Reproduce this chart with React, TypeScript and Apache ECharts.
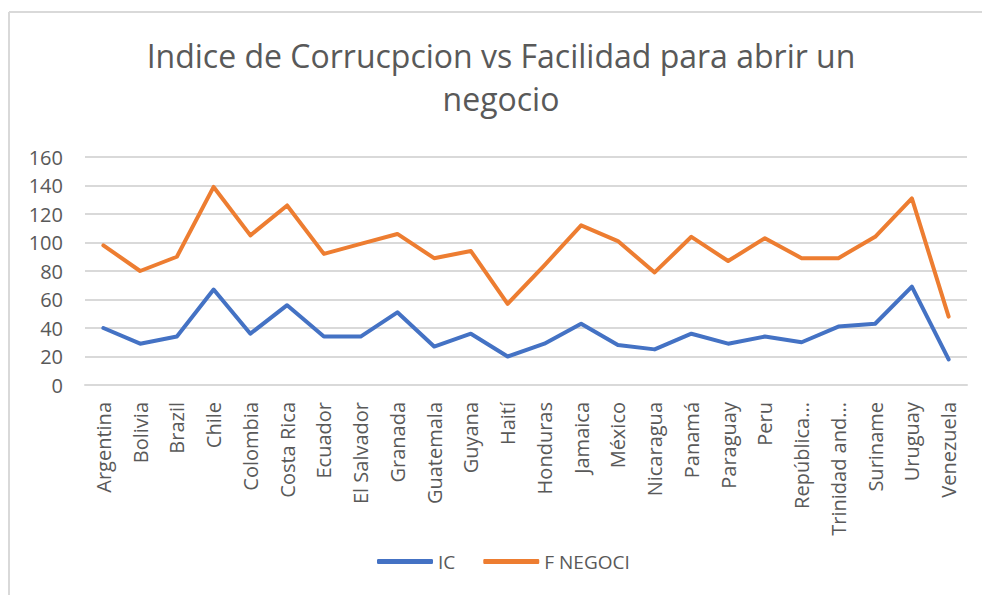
import React, { useEffect, useRef } from "react";
import * as echarts from "echarts";

const categories = [
  "Argentina", "Bolivia", "Brazil", "Chile", "Colombia", "Costa Rica", "Ecuador",
  "El Salvador", "Granada", "Guatemala", "Guyana", "Haití", "Honduras", "Jamaica",
  "México", "Nicaragua", "Panamá", "Paraguay", "Peru", "República...",
  "Trinidad and...", "Suriname", "Uruguay", "Venezuela",
];

const icValues = [40, 29, 34, 67, 36, 56, 34, 34, 51, 27, 36, 20, 29, 43, 28, 25, 36, 29, 34, 30, 41, 43, 69, 18];
const negociValues = [98, 80, 90, 139, 105, 126, 92, 99, 106, 89, 94, 57, 84, 112, 101, 79, 104, 87, 103, 89, 89, 104, 131, 48];

const yTicks = { min: 0, max: 160, interval: 20 };

const titleText = "Indice de Corrucpcion vs Facilidad para abrir un\nnegocio";

export default function App() {
  const ref = useRef<HTMLDivElement>(null);
  useEffect(() => {
    if (!ref.current) return;
    const chart = echarts.init(ref.current, undefined, { renderer: "svg" });
    const gray = "#595959";
    chart.setOption({
      animation: false,
      backgroundColor: "#ffffff",
      textStyle: { fontFamily: "Open Sans" },
      title: {
        text: titleText,
        left: 501,
        top: 34,
        padding: 0,
        textAlign: "center",
        textStyle: {
          fontFamily: "Open Sans",
          fontWeight: 400,
          fontSize: 32,
          lineHeight: 43,
          color: gray,
        },
      },
      graphic: [
        { type: "line", shape: { x1: 9, y1: 12, x2: 9, y2: 595 }, style: { stroke: "#d9d9d9", lineWidth: 2 } },
        { type: "line", shape: { x1: 9, y1: 12, x2: 982, y2: 12 }, style: { stroke: "#d9d9d9", lineWidth: 2 } },
      ],
      legend: {
        left: 377,
        top: 552,
        padding: 0,
        itemWidth: 56,
        itemHeight: 5,
        itemGap: 28,
        icon: "roundRect",
        textStyle: { fontSize: 19, color: gray, fontFamily: "Open Sans" },
        data: ["IC", "F NEGOCI"],
      },
      grid: { left: 85, right: 15, top: 157, bottom: 210 },
      xAxis: {
        type: "category",
        data: categories,
        boundaryGap: true,
        axisLine: { show: true, lineStyle: { color: "#d9d9d9", width: 2 } },
        axisTick: { show: false },
        axisLabel: { rotate: 90, fontSize: 20, color: gray, margin: 17, interval: 0, fontFamily: "Open Sans" },
      },
      yAxis: {
        type: "value",
        min: yTicks.min,
        max: yTicks.max,
        interval: yTicks.interval,
        axisLine: { show: false },
        axisTick: { show: false },
        axisLabel: { fontSize: 20, color: gray, margin: 22, fontFamily: "Open Sans" },
        splitLine: { lineStyle: { color: "#d9d9d9", width: 2 } },
      },
      series: [
        {
          name: "IC",
          type: "line",
          data: icValues,
          showSymbol: false,
          symbol: "none",
          lineStyle: { color: "#4472C4", width: 4, cap: "round", join: "round" },
          itemStyle: { color: "#4472C4" },
        },
        {
          name: "F NEGOCI",
          type: "line",
          data: negociValues,
          showSymbol: false,
          symbol: "none",
          lineStyle: { color: "#ED7D31", width: 4, cap: "round", join: "round" },
          itemStyle: { color: "#ED7D31" },
        },
      ],
    });
    return () => chart.dispose();
  }, []);
  return (
    <div
      ref={ref}
      style={{ position: "absolute", left: 0, top: 0, width: 982, height: 595 }}
    />
  );
}
